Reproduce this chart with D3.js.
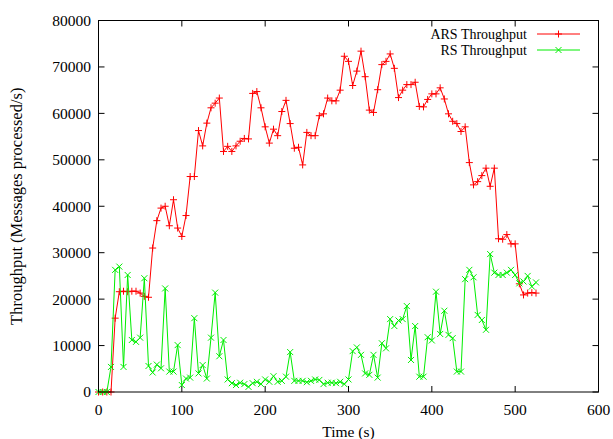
<!DOCTYPE html>
<html>
<head>
<meta charset="utf-8">
<script src="https://cdn.jsdelivr.net/npm/d3@7"></script>
<style>
  body { margin: 0; background: #fff; }
  text { font-family: "Liberation Serif", "DejaVu Serif", serif; fill: #000; }
</style>
</head>
<body>
<svg id="chart" width="613" height="439"></svg>
<script>
// sample times (s)
const times = [0, 5, 10, 15, 20, 25, 30, 35, 40, 45, 50, 55, 60, 65, 70, 75, 80, 85, 90, 95,
  100, 105, 110, 115, 120, 125, 130, 135, 140, 145, 150, 155, 160, 165, 170, 175, 180, 185, 190, 195,
  200, 205, 210, 215, 220, 225, 230, 235, 240, 245, 250, 255, 260, 265, 270, 275, 280, 285, 290, 295,
  300, 305, 310, 315, 320, 325, 330, 335, 340, 345, 350, 355, 360, 365, 370, 375, 380, 385, 390, 395,
  400, 405, 410, 415, 420, 425, 430, 435, 440, 445, 450, 455, 460, 465, 470, 475, 480, 485, 490, 495,
  500, 505, 510, 515, 520, 525];

const arsThroughput = [0, 0, 0, 0, 15900, 21600, 21700, 21600, 21700, 21700,
  21300, 20600, 20400, 31000, 36900, 39600, 40000, 35800, 41400, 35300,
  33500, 38000, 46400, 46400, 56300, 53000, 57900, 61200, 62200, 63300,
  51800, 52900, 51800, 53000, 54000, 54600, 54500, 64300, 64700, 61200,
  57100, 53600, 56600, 55200, 60400, 62800, 57800, 52500, 52700, 48900,
  55900, 55200, 55200, 59500, 59900, 63300, 62700, 62700, 65000, 72300,
  71200, 66000, 69100, 73400, 67900, 60700, 60200, 65100, 70500, 71200,
  72800, 69700, 63400, 65000, 66200, 66200, 66700, 61500, 61400, 63000,
  64200, 64200, 65500, 63100, 59900, 58300, 57800, 56100, 57100, 49400,
  44600, 45300, 46600, 48200, 44300, 48200, 33000, 32900, 33900, 31900,
  31900, 23300, 20900, 21300, 21400, 21300];

const rsThroughput = [0, 0, 0, 5400, 26300, 27000, 5400, 25200, 11200, 10800,
  11700, 24500, 5600, 4200, 5900, 5100, 22300, 4400, 4400, 10100,
  1500, 2900, 3100, 15900, 4000, 5800, 2900, 11700, 21400, 7700,
  11200, 2700, 1900, 1500, 2000, 1700, 1100, 1900, 2200, 1700,
  2700, 2200, 3400, 2200, 2400, 3300, 8600, 2400, 2400, 2400,
  2100, 2400, 2700, 2600, 1700, 2000, 2000, 1900, 2200, 1700,
  2700, 8800, 9600, 8000, 4000, 3700, 8000, 3100, 10500, 9400,
  15700, 14200, 15400, 15700, 18500, 6900, 14200, 3300, 3300, 11800,
  11100, 21600, 12500, 17500, 12300, 11600, 4400, 4400, 24300, 26300,
  24700, 16600, 15500, 13400, 29700, 25700, 25200, 25200, 25700, 26300,
  25200, 23400, 23800, 25000, 22700, 23600];

const xTicks = [0, 100, 200, 300, 400, 500, 600];
const yTicks = [0, 10000, 20000, 30000, 40000, 50000, 60000, 70000, 80000];

const seriesNames = ["ARS Throughput", "RS Throughput"];
const seriesColors = ["#ff0000", "#00ee00"];

const plotL = 98.5, plotR = 598.5, plotT = 20.5, plotB = 392;
const fs = 15.5;

const svg = d3.select("#chart");
const x = d3.scaleLinear().domain([0, 600]).range([plotL, plotR]);
const y = d3.scaleLinear().domain([0, 80000]).range([plotB, plotT]);

// axes, inward ticks mirrored on all sides
const tickLen = 6;
const axes = svg.append("g").attr("stroke", "#000").attr("stroke-width", 1);
xTicks.forEach(t => {
  axes.append("line").attr("x1", x(t)).attr("x2", x(t)).attr("y1", plotB).attr("y2", plotB - tickLen);
  axes.append("line").attr("x1", x(t)).attr("x2", x(t)).attr("y1", plotT).attr("y2", plotT + tickLen);
});
yTicks.forEach(t => {
  axes.append("line").attr("x1", plotL).attr("x2", plotL + tickLen).attr("y1", y(t)).attr("y2", y(t));
  axes.append("line").attr("x1", plotR).attr("x2", plotR - tickLen).attr("y1", y(t)).attr("y2", y(t));
});

svg.append("g").selectAll("text").data(xTicks).join("text")
  .attr("x", d => x(d)).attr("y", 415)
  .attr("text-anchor", "middle").attr("font-size", fs)
  .text(d => d);

svg.append("g").selectAll("text").data(yTicks).join("text")
  .attr("x", 91).attr("y", d => y(d)).attr("dy", "0.35em")
  .attr("text-anchor", "end").attr("font-size", fs)
  .text(d => d);

svg.append("text")
  .attr("x", (plotL + plotR) / 2).attr("y", 437)
  .attr("text-anchor", "middle").attr("font-size", fs)
  .text("Time (s)");

svg.append("text")
  .attr("transform", `translate(22,${(plotT + plotB) / 2}) rotate(-90)`)
  .attr("text-anchor", "middle").attr("font-size", 16.5)
  .text("Throughput (Messages processed/s)");

// marker shapes
const plus = (g, cx, cy, color) => {
  const s = 3.5;
  g.append("path").attr("d", `M${cx - s},${cy}H${cx + s}M${cx},${cy - s}V${cy + s}`)
    .attr("stroke", color).attr("stroke-width", 1).attr("fill", "none");
};
const cross = (g, cx, cy, color) => {
  const s = 3;
  g.append("path").attr("d", `M${cx - s},${cy - s}L${cx + s},${cy + s}M${cx - s},${cy + s}L${cx + s},${cy - s}`)
    .attr("stroke", color).attr("stroke-width", 1).attr("fill", "none");
};
const markers = [plus, cross];

const line = d3.line().x(d => x(d[0])).y(d => y(d[1]));
[arsThroughput, rsThroughput].forEach((vals, k) => {
  const pts = times.map((t, i) => [t, vals[i]]);
  const g = svg.append("g");
  g.append("path").attr("d", line(pts))
    .attr("fill", "none").attr("stroke", seriesColors[k]).attr("stroke-width", 1);
  pts.forEach(p => markers[k](g, x(p[0]), y(p[1]), seriesColors[k]));
});

// border
svg.append("rect").attr("x", plotL).attr("y", plotT)
  .attr("width", plotR - plotL).attr("height", plotB - plotT)
  .attr("fill", "none").attr("stroke", "#000").attr("stroke-width", 1);

// legend
seriesNames.forEach((name, k) => {
  const ly = 34 + k * 16;
  svg.append("text").attr("x", 527).attr("y", ly).attr("dy", "0.33em")
    .attr("text-anchor", "end").attr("font-size", 14).text(name);
  svg.append("line").attr("x1", 537).attr("x2", 580).attr("y1", ly).attr("y2", ly)
    .attr("stroke", seriesColors[k]).attr("stroke-width", 1);
  markers[k](svg, 558.5, ly, seriesColors[k]);
});
</script>
</body>
</html>
